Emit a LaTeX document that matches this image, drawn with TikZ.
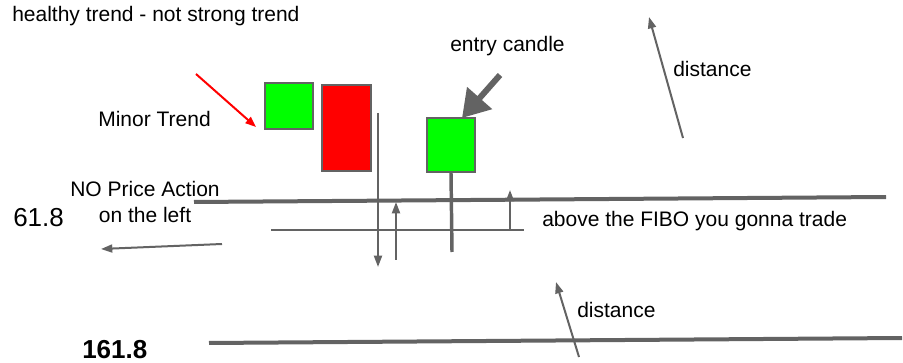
\documentclass[tikz,border=0pt]{standalone}
\usepackage{fontspec}
\setmainfont{Liberation Sans}
\usetikzlibrary{positioning, arrows.meta}
\definecolor{fibogray}{HTML}{636363}
\definecolor{bullgreen}{HTML}{00FF00}
\definecolor{bearred}{HTML}{FF0000}

\begin{document}
\begin{tikzpicture}[x=0.75pt, y=-0.75pt,
  lbl/.style={anchor=base west, inner sep=0pt, font=\fontsize{15.75}{19.5}\selectfont},
  lvl/.style={anchor=base west, inner sep=0pt, font=\fontsize{19.5}{23}\selectfont},
  candle/.style={draw=fibogray, line width=1.5pt, inner sep=0pt, minimum width=36pt},
  fiboline/.style={fibogray, line width=3pt},
  fibothin/.style={fibogray, line width=1.5pt},
  wick/.style={fibogray, line width=2.6pt},
  op/.style={fibogray, line width=1.5pt, -{Triangle[length=8.5pt, width=6pt]}},
  trendop/.style={bearred, line width=1.5pt, -{Triangle[length=8pt, width=6pt]}},
  entryop/.style={fibogray, line width=4.5pt, -{Triangle[length=20pt, width=24pt]}}
]
  \useasboundingbox (0,0) rectangle (903,363);

  % texts
  \node[lbl] (title) at (12,21.7) {healthy trend - not strong trend};
  \node[lbl] (entry) at (450,52) {entry candle};
  \node[lbl] (distup) at (673,77) {distance};
  \node[lbl] (minor) at (98,127) {Minor Trend};
  \node[align=center, inner sep=0pt, font=\fontsize{15.75}{19.5}\selectfont] (noaction) at (145,202) {NO Price Action\\on the left};
  \node[lvl] (fib618) at (13,227) {61.8};
  \node[lbl] (above) at (542,227) {above the FIBO you gonna trade};
  \node[lbl] (distdown) at (577,318) {distance};
  \node[lvl, font=\fontsize{19.5}{23}\selectfont\bfseries] (fib1618) at (82,358.5) {161.8};

  % candles
  \node[candle, fill=bullgreen, minimum height=34.5pt] (c1) at (289,106) {};
  \node[candle, fill=bearred, minimum width=36.75pt, minimum height=64.5pt] (c2) at (346.5,128) {};
  \node[candle, fill=bullgreen, minimum height=40.5pt] (c3) at (451,145) {};
  \coordinate (w3) at (452,252);
  \draw[wick] (c3.south) -- (w3);

  % fibo levels
  \coordinate (l1a) at (194,202);
  \coordinate (l1b) at (886,197);
  \coordinate (l2a) at (271,230);
  \coordinate (l2b) at (524,230);
  \coordinate (l3a) at (209,343);
  \coordinate (l3b) at (902,338);
  \draw[fiboline] (l1a) -- (l1b);
  \draw[fibothin] (l2a) -- (l2b);
  \draw[fiboline] (l3a) -- (l3b);

  % arrows
  \coordinate (r0) at (196,74);
  \coordinate (r1) at (256,127);
  \draw[trendop] (r0) -- (r1);
  \coordinate (e0) at (500,75);
  \coordinate (e1) at (462,118);
  \draw[entryop] (e0) -- (e1);
  \coordinate (d0) at (378,113);
  \coordinate (d1) at (378,267);
  \draw[op] (d0) -- (d1);
  \coordinate (u0) at (396,260);
  \coordinate (u1) at (396,202);
  \draw[op] (u0) -- (u1);
  \coordinate (s0) at (510,230);
  \coordinate (s1) at (510,190);
  \draw[op] (s0) -- (s1);
  \coordinate (p0) at (222,244);
  \coordinate (p1) at (101,249);
  \draw[op] (p0) -- (p1);
  \coordinate (t0) at (683,138);
  \coordinate (t1) at (649,17);
  \draw[op] (t0) -- (t1);
  \coordinate (b0) at (579,357);
  \coordinate (b1) at (556,282);
  \draw[op] (b0) -- (b1);
\end{tikzpicture}
\end{document}
